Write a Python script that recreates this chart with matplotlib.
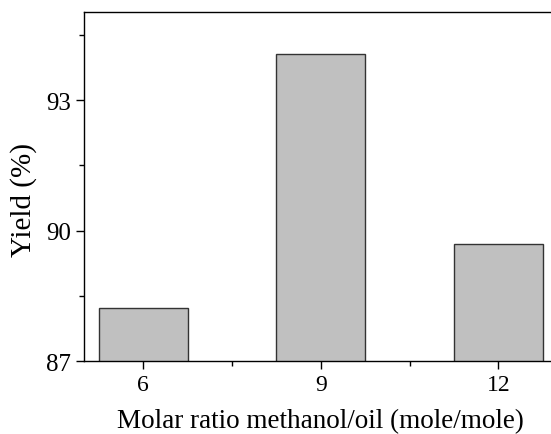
import numpy as np
import matplotlib.pyplot as plt
from matplotlib.ticker import MultipleLocator

plt.rcParams['font.family'] = ['Liberation Serif', 'DejaVu Serif']

ratio = [6, 9, 12]
yield_pct = [88.22, 94.05, 89.69]

fig = plt.figure(figsize=(5.51, 4.35), dpi=100)
ax = fig.add_axes([0.1525, 0.1678, 0.8595, 0.802])

ax.bar(ratio, yield_pct, width=1.5, bottom=0, color='#c0c0c0',
       edgecolor='#333333', linewidth=1.0)

ax.set_xlim(5, 13)
ax.set_ylim(87, 95.02)
ax.set_xticks(ratio)
ax.xaxis.set_minor_locator(MultipleLocator(1.5))
ax.set_yticks([87, 90, 93])
ax.yaxis.set_minor_locator(MultipleLocator(1.5))

ax.tick_params(which='major', direction='out', length=6, width=1)
ax.tick_params(which='minor', direction='out', length=3.5, width=1)
ax.tick_params(axis='x', which='major', labelsize=17, pad=3)
ax.tick_params(axis='y', which='major', labelsize=18)
for s in ax.spines.values():
    s.set_linewidth(1.0)

ax.set_xlabel('Molar ratio methanol/oil (mole/mole)', fontsize=19.5, labelpad=10)
ax.set_ylabel('Yield (%)', fontsize=21)
ax.yaxis.set_label_coords(-0.1, 0.464)

fig.savefig('out.png', dpi=100)
